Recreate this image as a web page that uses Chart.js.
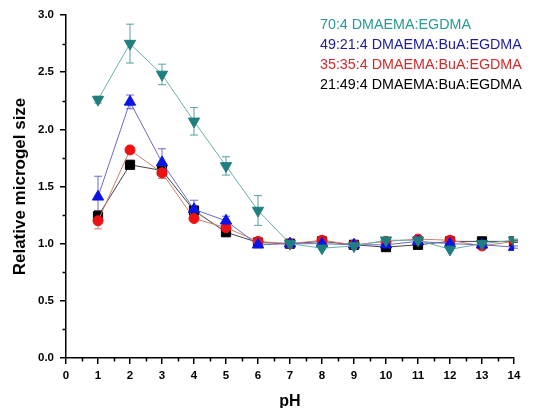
<!DOCTYPE html>
<html><head><meta charset="utf-8">
<script src="https://cdn.jsdelivr.net/npm/chart.js@4/dist/chart.umd.min.js"></script>
<style>html,body{margin:0;padding:0;background:#fff}#wrap{width:533px;height:408px}</style>
</head><body><div id="wrap"><canvas id="c" width="533" height="408"></canvas></div>
<script>
const pH = [1,2,3,4,5,6,7,8,9,10,11,12,13,14];
const labels = ['70:4 DMAEMA:EGDMA','49:21:4 DMAEMA:BuA:EGDMA','35:35:4 DMAEMA:BuA:EGDMA','21:49:4 DMAEMA:BuA:EGDMA'];
const teal  = [2.26,2.75,2.48,2.07,1.68,1.29,1.00,0.96,0.98,1.03,1.03,0.95,1.00,1.03];
const blue  = [1.41,2.24,1.71,1.30,1.20,0.99,1.00,1.00,0.99,0.99,1.02,1.00,0.99,0.97];
const red   = [1.20,1.82,1.62,1.22,1.14,1.02,1.00,1.03,0.99,1.02,1.04,1.03,0.98,1.02];
const black = [1.24,1.69,1.64,1.29,1.10,1.01,1.00,1.02,0.99,0.97,0.99,1.02,1.02,1.02];
const tealErr  = [0.03,0.17,0.09,0.12,0.08,0.13,0.01,0.01,0.01,0.02,0.02,0.01,0.01,0.01];
const blueErr  = [0.18,0.06,0.12,0.08,0.04,0.02,0.01,0.01,0.01,0.01,0.01,0.01,0.01,0.01];
const redErr   = [0.07,0.03,0.05,0.02,0.02,0.01,0.01,0.01,0.01,0.01,0.01,0.01,0.01,0.01];
const blackErr = [0.05,0.02,0.03,0.03,0.03,0.01,0.01,0.01,0.01,0.01,0.01,0.01,0.01,0.01];
const yTicks = [0,0.5,1.0,1.5,2.0,2.5,3.0];
const xTicks = [0,1,2,3,4,5,6,7,8,9,10,11,12,13,14];

const textColors = ['#2a9a92','#1c1c9c','#d42a2a','#000000'];
const markerColors = ['#1f7f7f','#0a14e6','#ee1111','#000000'];
const lineColors = ['#6aaeae','#6a6ac8','#c88070','#444444'];
const errColors = ['#5a9e9e','#6a6ac8','#c88070','#555555'];
const series = [teal, blue, red, black];
const errs = [tealErr, blueErr, redErr, blackErr];
const styles = ['triangle','triangle','circle','rect'];
const rotations = [180,0,0,0];
const radii = [6.5,6.5,5,6.5];

const datasets = series.map((s,i)=>({
  label: labels[i],
  data: pH.map((x,j)=>({x:x,y:s[j]})),
  errors: errs[i],
  borderColor: lineColors[i],
  backgroundColor: markerColors[i],
  pointBackgroundColor: markerColors[i],
  pointBorderColor: markerColors[i],
  pointStyle: styles[i],
  rotation: rotations[i],
  pointRadius: radii[i],
  borderWidth: 1,
  errColor: errColors[i],
  tension: 0
}));

const errorBars = {
  id:'errorBars',
  beforeDatasetsDraw(chart){
    const ctx = chart.ctx, xs = chart.scales.x, ys = chart.scales.y;
    chart.data.datasets.forEach(ds=>{
      ctx.save();
      ctx.strokeStyle = ds.errColor; ctx.lineWidth = 1;
      ds.data.forEach((p,j)=>{
        const e = ds.errors[j];
        const px = xs.getPixelForValue(p.x);
        const top = ys.getPixelForValue(p.y+e), bot = ys.getPixelForValue(p.y-e);
        ctx.beginPath();
        ctx.moveTo(px,top); ctx.lineTo(px,bot);
        ctx.moveTo(px-4,top); ctx.lineTo(px+4,top);
        ctx.moveTo(px-4,bot); ctx.lineTo(px+4,bot);
        ctx.stroke();
      });
      ctx.restore();
    });
  }
};

const minorTicks = {
  id:'minorTicks',
  afterDraw(chart){
    const ctx = chart.ctx, xs = chart.scales.x, ys = chart.scales.y, a = chart.chartArea;
    ctx.save(); ctx.strokeStyle='#000'; ctx.lineWidth=1.5;
    ctx.beginPath();
    for(let i=0;i<xTicks.length-1;i++){
      const px = Math.round(xs.getPixelForValue(xTicks[i]+0.5))+0.5;
      ctx.moveTo(px,a.bottom); ctx.lineTo(px,a.bottom+3.5);
    }
    for(let i=0;i<yTicks.length-1;i++){
      const py = Math.round(ys.getPixelForValue(yTicks[i]+0.25))+0.5;
      ctx.moveTo(a.left,py); ctx.lineTo(a.left-3.5,py);
    }
    ctx.stroke();
    ctx.font = '14.3px "Liberation Sans", Arial, sans-serif';
    ctx.textBaseline='middle'; ctx.textAlign='left';
    chart.data.datasets.forEach((ds,i)=>{
      ctx.fillStyle = textColors[i];
      ctx.fillText(ds.label, 320, 25 + i*20);
    });
    ctx.restore();
  }
};

new Chart(document.getElementById('c'),{
  type:'line',
  data:{datasets},
  options:{
    responsive:false, animation:false,
    layout:{padding:{top:15,right:19,left:0,bottom:0}},
    plugins:{legend:{display:false},tooltip:{enabled:false}},
    scales:{
      x:{type:'linear',min:0,max:14,
        afterBuildTicks(s){s.ticks = xTicks.map(v=>({value:v}));},
        afterFit(s){s.height=50;},
        ticks:{font:{family:'"Liberation Sans", Arial',size:11.5,weight:'bold'},color:'#000',padding:5,maxRotation:0,autoSkip:false},
        grid:{drawOnChartArea:false,drawTicks:true,tickLength:6,color:'#000',lineWidth:1.5},
        border:{display:true,color:'#000',width:1.5},
        title:{display:true,text:'pH',font:{family:'"Liberation Sans", Arial',size:16,weight:'bold'},color:'#000',padding:{top:0,bottom:-3}}
      },
      y:{type:'linear',min:0,max:3,
        afterBuildTicks(s){s.ticks = yTicks.map(v=>({value:v}));},
        afterFit(s){s.width=66;},
        ticks:{font:{family:'"Liberation Sans", Arial',size:11.5,weight:'bold'},color:'#000',padding:6,
          callback:v=>v.toFixed(1)},
        grid:{drawOnChartArea:false,drawTicks:true,tickLength:6,color:'#000',lineWidth:1.5},
        border:{display:true,color:'#000',width:1.5},
        title:{display:true,text:'Relative microgel size',font:{family:'"Liberation Sans", Arial',size:17,weight:'bold'},color:'#000',padding:{top:10.5,bottom:0}}
      }
    }
  },
  plugins:[errorBars,minorTicks]
});
</script></body></html>
